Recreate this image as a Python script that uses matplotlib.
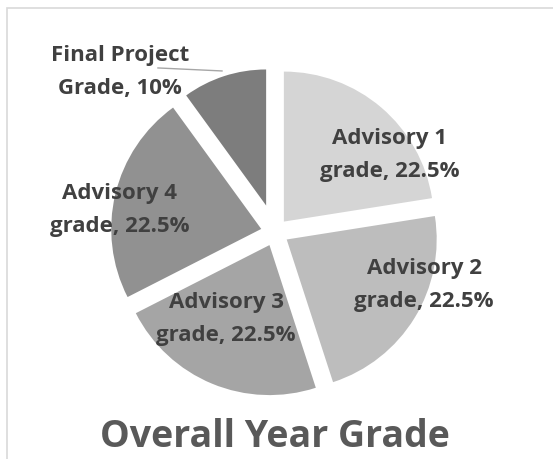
import matplotlib
matplotlib.use("Agg")
import matplotlib.pyplot as plt
from matplotlib.patches import Rectangle

# данные диаграммы
labels = ["Advisory 1\ngrade, 22.5%", "Advisory 2\ngrade, 22.5%", "Advisory 3\ngrade, 22.5%",
          "Advisory 4\ngrade, 22.5%", "Final Project\nGrade, 10%"]
shares = [22.5, 22.5, 22.5, 22.5, 10]
colors = ["#d5d5d5", "#bdbdbd", "#a5a5a5", "#919191", "#7d7d7d"]
explode = [0.093, 0.093, 0.093, 0.093, 0.187]
# позиции подписей (относительно центра круга, в радиусах)
label_pos = [(0.768, 0.515), (0.995, -0.352), (-0.325, -0.579), (-1.032, 0.148), (-1.032, 1.068)]

W, H = 553, 459
px = 150.0          # пикселей на радиус
cx, cy = 274.8, 232.2

fig = plt.figure(figsize=(W / 100, H / 100), dpi=100)
ax = fig.add_axes([0, 0, 1, 1])

wedges, _ = ax.pie(shares, colors=colors, explode=explode, startangle=90,
                   counterclock=False, wedgeprops=dict(linewidth=0))
# последний сектор в Excel нарисован меньшего радиуса
wedges[-1].set_radius(0.907)

ax.set_xlim(-cx / px, (W - cx) / px)
ax.set_ylim(-(H - cy) / px, cy / px)
ax.set_aspect("auto")
ax.axis("off")

font = ["Open Sans", "DejaVu Sans"]
for text, (x, y) in zip(labels, label_pos):
    ax.text(x, y, text, ha="center", va="center", fontsize=16, fontweight="bold",
            color="#404040", family=font, linespacing=1.8)

# линия-выноска для маленького сектора
ax.plot([-0.779, -0.352], [1.095, 1.075], color="#a6a6a6", lw=1)

ax.text(0.0, -(447 - cy) / px, "Overall Year Grade", ha="center", va="baseline",
        fontsize=27, fontweight="bold", color="#595959", family=font)

# рамка области диаграммы
fig.patches.append(Rectangle((6.5 / W, -0.1), 1.2, 1.1 - 8.3 / H, transform=fig.transFigure,
                             fill=False, edgecolor="#d9d9d9", lw=1.2))

fig.savefig("out.png", dpi=100)
